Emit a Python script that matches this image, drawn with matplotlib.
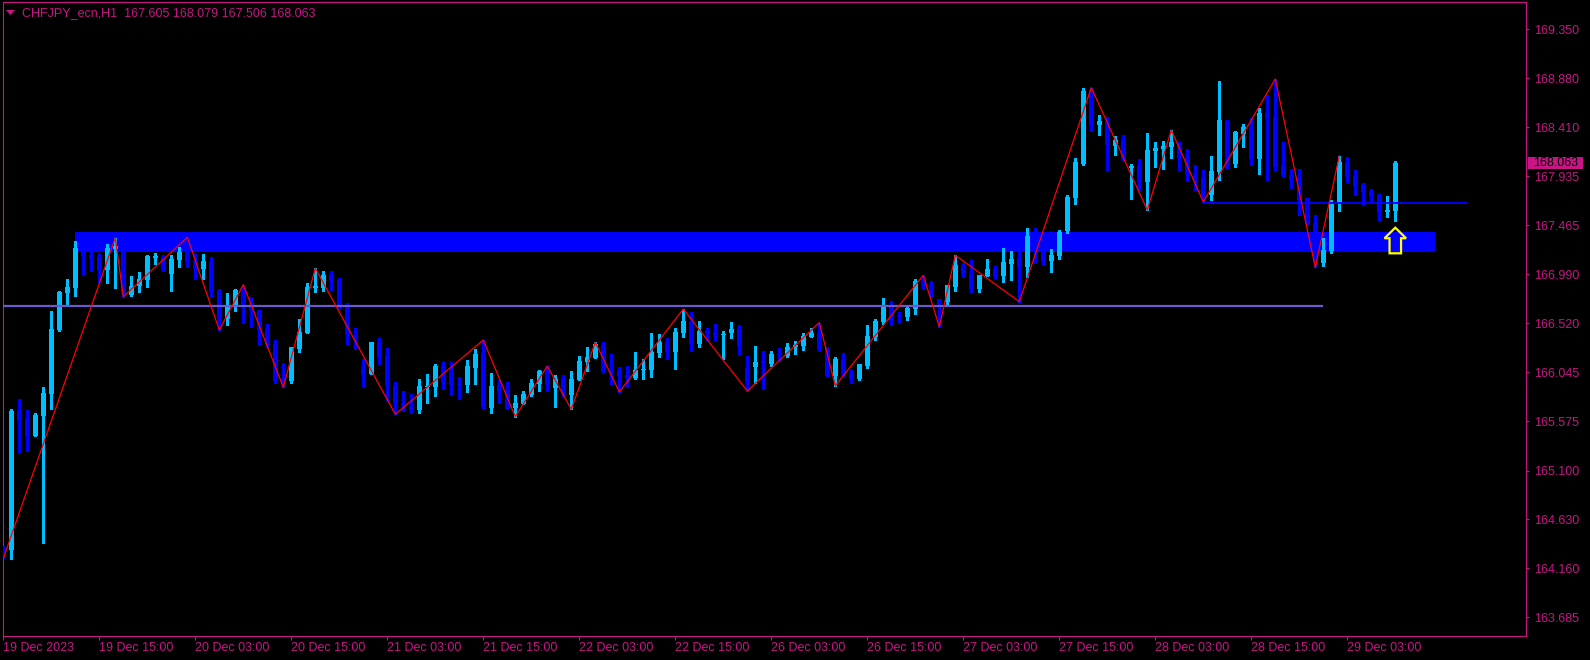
import matplotlib
matplotlib.use("Agg")
import matplotlib.pyplot as plt
import matplotlib.transforms as mtransforms
from matplotlib.patches import Rectangle, Polygon
import numpy as np

plt.rcParams['font.family'] = ['Liberation Sans', 'DejaVu Sans']

# CHFJPY H1 candles (bar 0 = 19 Dec 03:00)
opens = [164.366, 164.334, 165.674, 165.597, 165.436, 165.626, 165.840, 166.457, 166.811, 166.859,
         167.225, 167.177, 167.155, 167.035, 167.235, 167.254, 166.791, 166.881, 166.936, 167.151,
         167.155, 166.994, 167.129, 167.225, 167.119, 167.042, 167.109, 166.830, 166.560, 166.685,
         166.833, 166.711, 166.647, 166.476, 166.319, 165.972, 165.963, 166.271, 166.428, 166.859,
         166.862, 166.984, 166.936, 166.685, 166.406, 166.078, 166.033, 166.338, 166.204, 165.915,
         165.751, 165.722, 165.686, 165.905, 165.908, 166.107, 166.049, 165.934, 165.927, 166.091,
         166.232, 165.705, 165.924, 165.876, 165.705, 165.744, 165.831, 165.934, 166.059, 165.895,
         165.979, 165.831, 165.975, 166.149, 166.187, 166.307, 166.072, 166.059, 166.021, 165.992,
         166.066, 166.072, 166.232, 166.338, 166.242, 166.425, 166.531, 166.322, 166.444, 166.425,
         166.406, 166.425, 166.464, 166.088, 166.098, 166.155, 166.127, 166.223, 166.204, 166.293,
         166.300, 166.387, 166.425, 166.281, 166.014, 166.175, 166.040, 165.982, 166.107, 166.387,
         166.531, 166.676, 166.599, 166.579, 166.656, 166.929, 166.888, 166.753, 166.727, 166.871,
         167.080, 167.003, 166.849, 166.977, 167.042, 166.977, 167.093, 167.138, 167.064, 167.264,
         167.209, 167.119, 167.170, 167.408, 167.729, 168.054, 168.767, 168.430, 168.468, 168.227,
         168.285, 168.018, 168.034, 167.880, 168.179, 168.198, 168.218, 168.266, 168.131, 167.957,
         167.919, 167.755, 167.977, 168.468, 168.054, 168.346, 168.410, 168.102, 168.545, 168.507,
         168.034, 167.948, 167.919, 167.726, 167.485, 167.100, 167.215, 167.681, 168.063, 167.938,
         167.851, 167.794, 167.755, 167.591, 167.605]
highs = [164.373, 165.693, 165.789, 165.683, 165.652, 165.902, 166.637, 166.833, 166.946, 167.312,
         167.264, 167.209, 167.196, 167.283, 167.344, 167.292, 166.974, 167.016, 167.177, 167.193,
         167.177, 167.177, 167.254, 167.347, 167.193, 167.186, 167.158, 166.846, 166.808, 166.852,
         166.891, 166.775, 166.647, 166.512, 166.358, 166.133, 166.290, 166.557, 166.910, 167.049,
         167.023, 167.026, 166.952, 166.711, 166.470, 166.175, 166.338, 166.380, 166.284, 165.953,
         165.866, 165.837, 165.982, 166.030, 166.127, 166.146, 166.146, 166.001, 166.165, 166.274,
         166.358, 166.040, 165.972, 165.953, 165.828, 165.866, 165.979, 166.069, 166.107, 166.021,
         166.018, 166.059, 166.201, 166.290, 166.336, 166.336, 166.223, 166.101, 166.107, 166.242,
         166.175, 166.425, 166.416, 166.377, 166.470, 166.656, 166.631, 166.541, 166.473, 166.512,
         166.444, 166.531, 166.502, 166.204, 166.300, 166.252, 166.252, 166.281, 166.326, 166.348,
         166.425, 166.473, 166.525, 166.293, 166.194, 166.232, 166.069, 166.127, 166.502, 166.560,
         166.762, 166.734, 166.628, 166.679, 166.946, 166.981, 166.926, 166.753, 166.888, 167.174,
         167.097, 167.129, 166.984, 167.138, 167.071, 167.244, 167.215, 167.206, 167.437, 167.437,
         167.244, 167.235, 167.418, 167.755, 168.112, 168.786, 168.789, 168.526, 168.504, 168.323,
         168.333, 168.054, 168.102, 168.352, 168.266, 168.275, 168.381, 168.266, 168.198, 168.044,
         167.996, 168.131, 168.853, 168.478, 168.372, 168.439, 168.497, 168.593, 168.719, 168.873,
         168.266, 168.006, 168.006, 167.726, 167.562, 167.338, 167.707, 168.131, 168.121, 167.996,
         167.871, 167.813, 167.765, 167.745, 168.079]
lows = [164.252, 164.247, 165.279, 165.291, 165.436, 164.405, 165.696, 166.444, 166.692, 166.782,
        166.994, 167.023, 166.920, 166.910, 166.862, 166.775, 166.782, 166.820, 166.871, 167.090,
        167.023, 166.833, 167.064, 167.061, 166.946, 166.946, 166.769, 166.454, 166.502, 166.637,
        166.519, 166.483, 166.310, 166.293, 165.946, 165.902, 165.946, 166.245, 166.428, 166.823,
        166.833, 166.840, 166.669, 166.319, 166.271, 165.917, 166.033, 166.129, 165.780, 165.642,
        165.676, 165.651, 165.657, 165.754, 165.821, 165.889, 165.831, 165.792, 165.860, 165.937,
        165.696, 165.657, 165.751, 165.693, 165.619, 165.741, 165.821, 165.869, 165.869, 165.715,
        165.821, 165.690, 165.975, 166.062, 166.181, 166.052, 165.931, 165.857, 165.902, 165.982,
        165.982, 165.998, 166.191, 166.175, 166.078, 166.390, 166.252, 166.290, 166.358, 166.358,
        166.175, 166.377, 166.226, 165.866, 165.941, 165.886, 166.107, 166.155, 166.194, 166.223,
        166.261, 166.384, 166.252, 166.014, 165.917, 166.014, 165.946, 165.972, 166.091, 166.358,
        166.512, 166.502, 166.534, 166.550, 166.608, 166.852, 166.775, 166.486, 166.695, 166.833,
        166.968, 166.823, 166.823, 166.977, 166.955, 166.920, 166.939, 166.727, 166.968, 167.109,
        167.080, 167.016, 167.138, 167.386, 167.665, 168.044, 168.372, 168.333, 167.996, 168.140,
        168.083, 167.716, 167.803, 167.610, 168.025, 168.006, 168.112, 167.996, 167.893, 167.803,
        167.688, 167.707, 167.900, 168.015, 168.025, 168.218, 168.044, 167.957, 167.900, 167.996,
        167.931, 167.822, 167.562, 167.466, 167.058, 167.074, 167.199, 167.601, 167.880, 167.755,
        167.659, 167.688, 167.514, 167.543, 167.506]
closes = [164.334, 165.676, 165.590, 165.436, 165.635, 165.850, 166.464, 166.820, 166.868, 167.244,
          167.170, 167.151, 167.035, 167.244, 167.266, 166.798, 166.878, 166.946, 167.167, 167.170,
          167.032, 167.138, 167.209, 167.109, 167.042, 167.119, 166.820, 166.557, 166.685, 166.840,
          166.705, 166.637, 166.454, 166.310, 165.963, 165.953, 166.290, 166.435, 166.866, 166.878,
          166.984, 166.926, 166.669, 166.406, 166.367, 166.033, 166.338, 166.194, 165.917, 165.754,
          165.715, 165.686, 165.915, 165.917, 166.107, 165.956, 165.927, 165.921, 166.107, 166.223,
          165.715, 165.915, 165.869, 165.696, 165.751, 165.837, 165.941, 166.059, 165.924, 165.982,
          165.831, 165.982, 166.155, 166.194, 166.316, 166.059, 166.056, 166.014, 165.994, 166.069,
          166.081, 166.242, 166.338, 166.242, 166.435, 166.541, 166.322, 166.444, 166.416, 166.406,
          166.416, 166.464, 166.300, 165.953, 166.146, 166.136, 166.223, 166.213, 166.290, 166.310,
          166.396, 166.428, 166.271, 166.014, 166.175, 166.030, 165.982, 166.127, 166.396, 166.541,
          166.676, 166.541, 166.582, 166.666, 166.926, 166.881, 166.785, 166.705, 166.888, 167.080,
          166.997, 166.852, 166.984, 167.042, 166.977, 167.109, 167.138, 167.064, 167.360, 167.206,
          167.119, 167.177, 167.398, 167.739, 168.073, 168.757, 168.430, 168.468, 168.237, 168.285,
          168.092, 168.034, 167.880, 168.189, 168.208, 168.227, 168.266, 168.112, 167.948, 167.909,
          167.755, 167.986, 168.478, 168.044, 168.362, 168.410, 168.102, 168.545, 168.497, 168.025,
          167.948, 167.909, 167.707, 167.476, 167.109, 167.225, 167.668, 168.073, 167.928, 167.842,
          167.784, 167.745, 167.591, 167.610, 168.063]

tick_bars = [0, 12, 24, 36, 48, 60, 72, 84, 96, 108, 120, 132, 144, 156, 168]
tick_labels = ['19 Dec 2023', '19 Dec 15:00', '20 Dec 03:00', '20 Dec 15:00', '21 Dec 03:00',
               '21 Dec 15:00', '22 Dec 03:00', '22 Dec 15:00', '26 Dec 03:00', '26 Dec 15:00',
               '27 Dec 03:00', '27 Dec 15:00', '28 Dec 03:00', '28 Dec 15:00', '29 Dec 03:00']
price_ticks = [169.350, 168.880, 168.410, 167.935, 167.465, 166.990, 166.520,
               166.045, 165.575, 165.100, 164.630, 164.160, 163.685]

# zigzag swing bars, alternating low / high starting with a low
zz_bars = [0, 14, 15, 23, 27, 30, 35, 39, 49, 60, 64, 68, 71, 74, 77, 85, 93,
           102, 104, 115, 117, 119, 127, 136, 143, 146, 150, 159, 164, 167]

zone_top = 167.398
zone_bottom = 167.209
zone_bars = (9, 179)
level_price = 166.687
level_bars = (-2, 165)
res_price = 167.681
res_bars = (150, 183)
arrow_bar = 174
arrow_top = 167.440
symbol = 'CHFJPY_ecn,H1'

MAG = '#C71585'
UP = '#00BFFF'
DN = '#0000FF'

W, H = 1590, 660
fig = plt.figure(figsize=(W / 100, H / 100), dpi=100, facecolor='black')
ax = fig.add_axes([2.7 / W, (H - 635.7) / H, (1526 - 2.7) / W, (635.7 - 2.3) / H])
ax.set_facecolor('black')

o = np.array(opens)
h = np.array(highs)
l = np.array(lows)
c = np.array(closes)
x = np.arange(len(o))
up = c >= o
col = np.where(up, UP, DN)

# zone rectangle (behind candles)
ax.add_patch(Rectangle((zone_bars[0], zone_bottom), zone_bars[1] - zone_bars[0], zone_top - zone_bottom,
                       facecolor='#0000FF', edgecolor='none', zorder=1))

ax.vlines(x, l, h, colors=col, linewidth=0.8, antialiased=False, zorder=3)
body = np.maximum(np.abs(c - o), 0.01)
ax.bar(x, body, bottom=np.minimum(o, c), width=0.64, color=col, linewidth=0,
       antialiased=False, zorder=4)

# horizontal levels
ax.hlines(level_price, level_bars[0], level_bars[1], colors='#6A5ACD', linewidth=1.6, zorder=5)
ax.hlines(res_price, res_bars[0], res_bars[1], colors='#0000FF', linewidth=1.3, zorder=5)

# zigzag
zz_y = [lows[b] if k % 2 == 0 else highs[b] for k, b in enumerate(zz_bars)]
ax.plot(zz_bars, zz_y, color='#FF0000', linewidth=0.9, zorder=6)

# hollow up arrow
hw, sw, head_h, tot = 1.35, 0.72, 0.102, 0.247
verts = [(arrow_bar, arrow_top), (arrow_bar + hw, arrow_top - head_h), (arrow_bar + sw, arrow_top - head_h),
         (arrow_bar + sw, arrow_top - tot), (arrow_bar - sw, arrow_top - tot),
         (arrow_bar - sw, arrow_top - head_h), (arrow_bar - hw, arrow_top - head_h)]
ax.add_patch(Polygon(verts, closed=True, fill=False, edgecolor='#FFFF00', linewidth=1.6, zorder=7))

ax.set_xlim((2.7 - 3.3) / 8, (1526 - 3.3) / 8)
ax.set_ylim(163.508, 169.612)

ax.yaxis.tick_right()
ax.set_yticks(price_ticks)
ax.set_yticklabels([f'{p:.3f}' for p in price_ticks])
ax.set_xticks(tick_bars)
ax.set_xticklabels(tick_labels, ha='left')
ax.tick_params(axis='y', colors=MAG, labelcolor=MAG, length=2.5, width=0.8, pad=3, labelsize=9)
ax.tick_params(axis='x', colors=MAG, labelcolor=MAG, length=3, width=0.8, pad=1.5, labelsize=9)
for s in ax.spines.values():
    s.set_color(MAG)
    s.set_linewidth(0.8)

# last price label on the right axis
tr = mtransforms.blended_transform_factory(ax.transAxes, ax.transData)
bx0 = (1527.7 - 2.7) / (1526 - 2.7)
bw = 55 / (1526 - 2.7)
bh = 12.3 * (169.612 - 163.508) / 633.4
ax.add_patch(Rectangle((bx0, closes[-1] - bh / 2), bw, bh, transform=tr, facecolor=MAG,
                       edgecolor='none', clip_on=False, zorder=10))
ax.text((1533.5 - 2.7) / (1526 - 2.7), closes[-1], f'{closes[-1]:.3f}', transform=tr,
        color='black', fontsize=9, va='center', ha='left', clip_on=False, zorder=11)

# header
fig.add_artist(Polygon([(6 / W, 1 - 10 / H), (15 / W, 1 - 10 / H), (10.5 / W, 1 - 15 / H)],
                       closed=True, transform=fig.transFigure, facecolor=MAG, edgecolor='none'))
fig.text(22 / W, 1 - 12.7 / H,
         f'{symbol}  {opens[-1]:.3f} {highs[-1]:.3f} {lows[-1]:.3f} {closes[-1]:.3f}',
         color=MAG, fontsize=9, va='center', ha='left')

fig.savefig('out.png', dpi=100, facecolor='black')
